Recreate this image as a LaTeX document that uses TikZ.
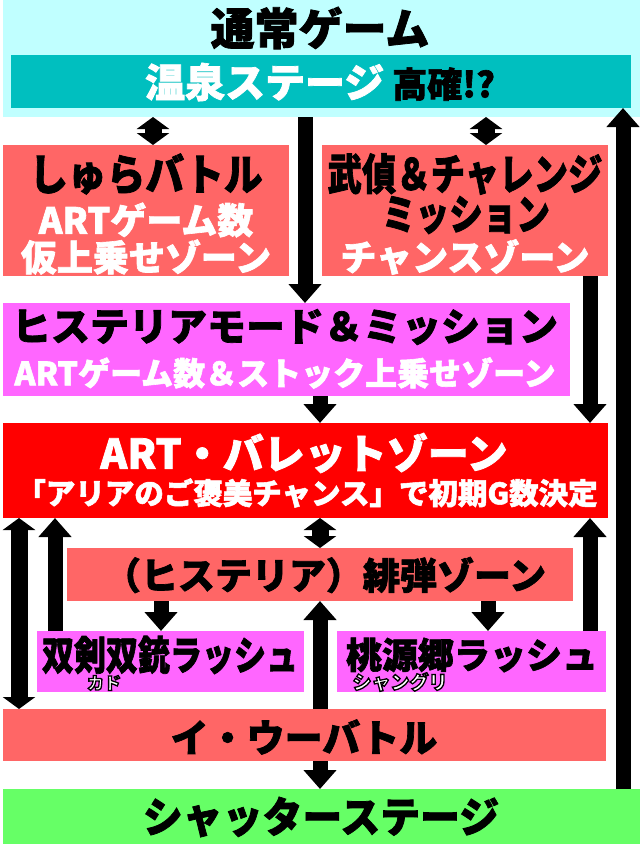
\documentclass[tikz,border=0pt]{standalone}
\usepackage{fontspec}
\setmainfont{Noto Sans CJK JP}[BoldFeatures={FakeBold=1.8}]
\newfontfamily\rubyf{Noto Sans CJK JP}
\usetikzlibrary{arrows.meta}
\newcommand\jfs[1]{\fontsize{#1}{#1}\selectfont}
\newcommand\outl[1]{\special{pdf:literal direct 0 0 0 RG 1.3 w 2 Tr}#1\special{pdf:literal direct 0 Tr}}
\definecolor{cybg}{HTML}{C0FFFF}
\definecolor{teal2}{HTML}{00BFBF}
\definecolor{salmon}{HTML}{FF6666}
\definecolor{magen}{HTML}{FF66FF}
\definecolor{redz}{HTML}{FF0000}
\definecolor{greenz}{HTML}{66FF66}
\begin{document}
\begin{tikzpicture}[x=1pt,y=-1pt,
  box/.style={rectangle,draw=none,inner sep=0pt,outer sep=0pt},
  txt/.style={inner sep=0pt,font=\bfseries},
  wtxt/.style={txt,text=white},
  arr/.style={line width=15pt,-{Triangle[width=32pt,length=19pt]}},
  dbl/.style={line width=17pt,{Triangle[width=32pt,length=12pt]}-{Triangle[width=32pt,length=12pt]}}]
\useasboundingbox[fill=white] (0,0) rectangle (640,844);
% boxes
\node[box,fill=cybg,minimum width=637pt,minimum height=117pt] (top) at (321.5,58.5) {};
\node[box,fill=teal2,minimum width=620pt,minimum height=53pt] (onsen) at (321,81.5) {};
\node[box,fill=salmon,minimum width=286pt,minimum height=131pt] (shura) at (146,210.5) {};
\node[box,fill=salmon,minimum width=286pt,minimum height=131pt] (butei) at (465,210.5) {};
\node[box,fill=magen,minimum width=567pt,minimum height=93pt] (mode) at (286.5,349.5) {};
\node[box,fill=redz,minimum width=605pt,minimum height=95pt] (art) at (305.5,470.5) {};
\node[box,fill=salmon,minimum width=506pt,minimum height=53pt] (hyst) at (320,574.5) {};
\node[box,fill=magen,minimum width=267pt,minimum height=61pt] (rushL) at (170.5,661.5) {};
\node[box,fill=magen,minimum width=269pt,minimum height=61pt] (rushR) at (471.5,661.5) {};
\node[box,fill=salmon,minimum width=603pt,minimum height=52pt] (iu) at (304.5,735) {};
\node[box,fill=greenz,minimum width=637pt,minimum height=55pt] (shutter) at (321.5,816.5) {};
% column coordinates
\coordinate (c19) at (19,0);
\coordinate (c55) at (55,0);
\coordinate (c153) at (153,0);
\coordinate (c161) at (161,0);
\coordinate (c305) at (305,0);
\coordinate (c320) at (320,0);
\coordinate (c486) at (486,0);
\coordinate (c488) at (488,0);
\coordinate (c590) at (590,0);
\coordinate (c623) at (623,0);
% arrows
\draw[dbl] (top.south -| c153) -- (shura.north -| c153);
\draw[dbl] (top.south -| c486) -- (butei.north -| c486);
\draw[arr] (top.south -| c305) -- (mode.north -| c305);
\draw[arr] (shutter.north -| c623) -- (onsen.south -| c623);
\draw[arr] (butei.south -| c590) -- (art.north -| c590);
\draw[arr] (mode.south -| c320) -- (art.north -| c320);
\draw[dbl] (art.south -| c320) -- (hyst.north -| c320);
\draw[dbl] (art.south -| c19) -- (iu.north -| c19);
\draw[arr] (rushL.north -| c55) -- (art.south -| c55);
\draw[arr] (hyst.south -| c161) -- (rushL.north -| c161);
\draw[arr] (hyst.south -| c488) -- (rushR.north -| c488);
\draw[arr] (iu.north -| c320) -- (hyst.south -| c320);
\draw[arr] (rushR.north -| c590) -- (art.south -| c590);
\draw[arr] (iu.south -| c320) -- (shutter.north -| c320);
% texts
\node[txt] (t-normal) at (320,28) {\jfs{44}通常ゲーム};
\node[txt] (t-onsen) at (320,82) {{\color{white}\jfs{40}温泉ステージ}\hspace{8pt}{\jfs{35}高確!?}};
\node[txt] (t-shura1) at (146,174) {\scalebox{0.9}[1]{\jfs{43}しゅらバトル}};
\node[wtxt] (t-shura2) at (146,220) {\jfs{36}ARTゲーム数};
\node[wtxt] (t-shura3) at (146,257) {\jfs{36}仮上乗せゾーン};
\node[txt] (t-butei1) at (465,174) {\scalebox{0.8}[1]{\jfs{43}武偵＆チャレンジ}};
\node[txt] (t-butei2) at (466,215) {\scalebox{0.8}[1]{\jfs{42}ミッション}};
\node[wtxt] (t-butei3) at (465,257) {\jfs{36}チャンスゾーン};
\node[txt] (t-mode1) at (285,327) {\jfs{39}ヒステリアモード＆ミッション};
\node[wtxt] (t-mode2) at (285,373) {\jfs{32}ARTゲーム数＆ストック上乗せゾーン};
\node[wtxt] (t-art1) at (304,453) {\jfs{41}ART・バレットゾーン};
\node[wtxt] (t-art2) at (307,493) {\jfs{29.5}「アリアのご褒美チャンス」で初期G数決定};
\node[txt] (t-hyst) at (325,575) {\jfs{37}（ヒステリア）緋弾ゾーン};
\node[txt] (t-rushL) at (170,655) {\scalebox{0.8}[1]{\jfs{40}双剣双銃ラッシュ}};
\node[txt] (t-rushR) at (472,655) {\jfs{36}桃源郷ラッシュ};
\node[inner sep=0pt] (t-rubyL) at (104,683) {\rubyf\bfseries\jfs{17}\color{white}\outl{カド}};
\node[inner sep=0pt] (t-rubyR) at (400,682) {\rubyf\bfseries\jfs{19}\color{white}\outl{シャングリ}};
\node[txt] (t-iu) at (304,737) {\jfs{38}イ・ウーバトル};
\node[txt] (t-shutter) at (321,817) {\scalebox{0.95}[1]{\jfs{42}シャッターステージ}};
\end{tikzpicture}
\end{document}
